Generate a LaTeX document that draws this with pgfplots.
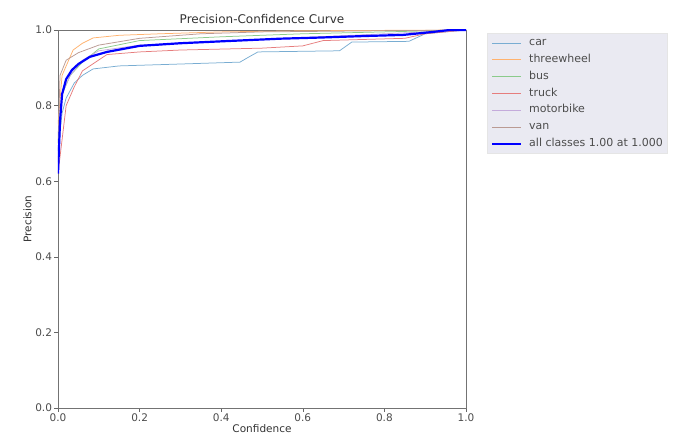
\documentclass[border=0pt]{standalone}
\usepackage{pgfplots}
\pgfplotsset{compat=1.18}
\usepackage{fontspec}
\setmainfont{DejaVu Sans}
\definecolor{carc}{HTML}{79ADD2}
\definecolor{threec}{HTML}{FFB26E}
\definecolor{busc}{HTML}{8BCB8B}
\definecolor{truckc}{HTML}{E67D7D}
\definecolor{motoc}{HTML}{C4ABDB}
\definecolor{vanc}{HTML}{BA9A93}
\definecolor{legbg}{HTML}{EAEAF2}
\begin{document}
\begin{tikzpicture}
\begin{axis}[
  scale only axis, width=408pt, height=378pt,
  xmin=0, xmax=1, ymin=0, ymax=1,
  xtick={0,0.2,...,1.0}, ytick={0,0.2,...,1.0},
  xticklabel style={yshift=1pt, /pgf/number format/.cd,fixed,fixed zerofill,precision=1},
  yticklabel style={xshift=1pt, /pgf/number format/.cd,fixed,fixed zerofill,precision=1},
  /pgf/number format/assume math mode=true,
  tick label style={font=\fontsize{10.5}{12}\selectfont, text=black!70},
  tick align=outside, tickpos=left, major tick length=3.5pt,
  every tick/.style={black!60, line width=0.5pt},
  axis line style={black!55, line width=0.7pt},
  title={Precision-Confidence Curve},
  title style={font=\fontsize{12}{13}\selectfont, text=black!80, yshift=-3pt},
  xlabel={Confidence}, ylabel={Precision},
  label style={font=\fontsize{10.5}{12}\selectfont, text=black!80},
  xlabel style={yshift=4pt}, ylabel style={yshift=-3pt},
  legend style={at={(1.051,0.992)}, anchor=north west, fill=legbg, draw=black!10,
    font=\fontsize{11}{12}\selectfont, text=black!70, row sep=6.3pt, column sep=7pt,
    inner xsep=4pt, inner ysep=4.5pt, nodes={inner sep=0pt, text height=8pt, text depth=2.5pt}},
  legend cell align=left,
  legend image code/.code={\draw (0pt,0pt) -- (29pt,0pt);},
  every axis plot/.append style={line width=0.75pt},
]
% car
\addplot[carc] coordinates {
(0,0.68) (0.01,0.78) (0.02,0.82) (0.04,0.86) (0.06,0.88) (0.086,0.897) (0.15,0.905)
(0.3,0.91) (0.446,0.915) (0.47,0.93) (0.49,0.942) (0.69,0.945) (0.72,0.968)
(0.86,0.97) (0.9,0.99) (0.95,0.995) (1,1)};
\addlegendentry{car}
% threewheel
\addplot[threec] coordinates {
(0,0.75) (0.01,0.88) (0.037,0.947) (0.06,0.965) (0.086,0.979) (0.15,0.986)
(0.25,0.99) (0.4,0.995) (0.6,0.998) (1,1)};
\addlegendentry{threewheel}
% bus
\addplot[busc] coordinates {
(0,0.70) (0.01,0.83) (0.03,0.88) (0.06,0.915) (0.1,0.95) (0.2,0.972)
(0.4,0.982) (0.6,0.99) (0.8,0.995) (1,1)};
\addlegendentry{bus}
% truck
\addplot[truckc] coordinates {
(0,0.62) (0.02,0.80) (0.04,0.85) (0.06,0.892) (0.12,0.935) (0.2,0.942)
(0.3,0.947) (0.5,0.952) (0.6,0.958) (0.65,0.972) (0.85,0.978) (0.9,0.99) (1,1)};
\addlegendentry{truck}
% motorbike
\addplot[motoc] coordinates {
(0,0.65) (0.01,0.83) (0.03,0.88) (0.06,0.92) (0.1,0.945) (0.2,0.96)
(0.4,0.97) (0.6,0.98) (0.8,0.99) (1,1)};
\addlegendentry{motorbike}
% van
\addplot[vanc] coordinates {
(0,0.70) (0.005,0.88) (0.02,0.92) (0.05,0.94) (0.1,0.96) (0.2,0.978)
(0.35,0.99) (0.5,0.995) (1,1)};
\addlegendentry{van}
% all classes
\addplot[blue, line width=2.2pt] coordinates {
(0,0.62) (0.005,0.76) (0.01,0.83) (0.02,0.87) (0.034,0.894) (0.05,0.91)
(0.078,0.929) (0.12,0.942) (0.2,0.958) (0.3,0.965) (0.4,0.97) (0.544,0.977)
(0.642,0.980) (0.75,0.984) (0.846,0.987) (0.92,0.995) (0.96,1.0) (1.0,1.0)};
\addlegendentry{all classes 1.00 at 1.000}
\end{axis}
\path (current axis.south west) ++(-58pt,-37pt) rectangle ++(681pt,445pt);
\end{tikzpicture}
\end{document}
